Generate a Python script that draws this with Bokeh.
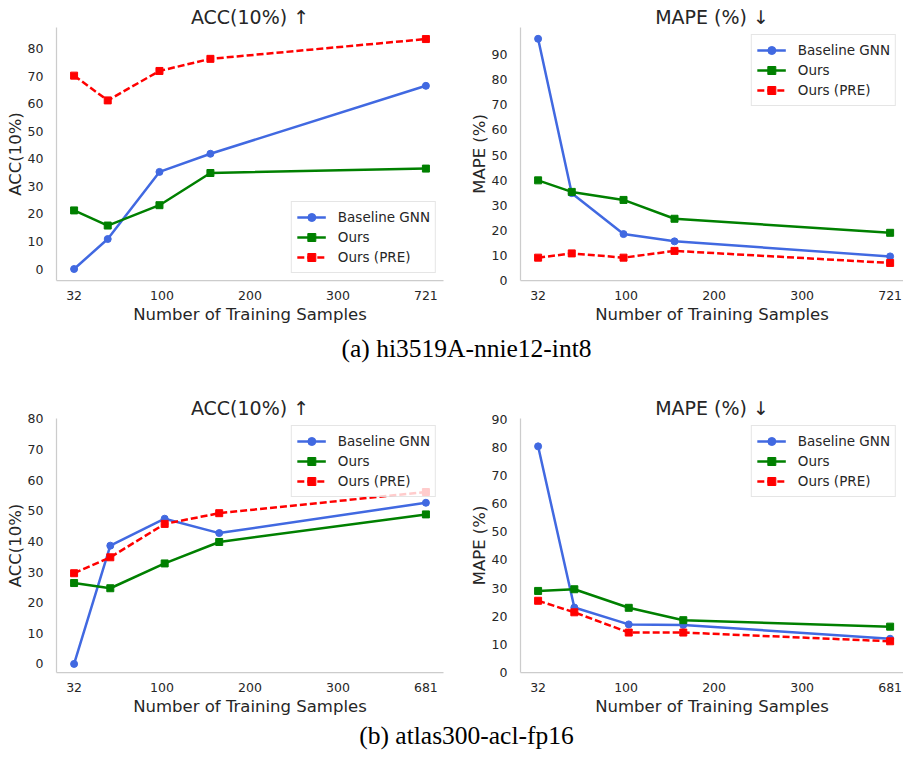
import numpy as np
from bokeh.plotting import figure
from bokeh.models import FixedTicker, Range1d, Legend, LegendItem, Div
from bokeh.layouts import column, row
from bokeh.embed import file_html
from bokeh.resources import INLINE

# ---------------- data ----------------
TICKS_A = [32, 100, 200, 300, 721]
TICKS_B = [32, 100, 200, 300, 681]
SAMPLES_A = [32, 58, 98, 155, 721]
SAMPLES_B = [32, 60, 103, 165, 681]

ACC_A_BASE = [0.0, 10.9, 35.3, 41.9, 66.6]
ACC_A_OURS = [21.3, 15.8, 23.2, 34.9, 36.5]
ACC_A_PRE = [70.3, 61.3, 72.0, 76.4, 83.6]

MAPE_A_BASE = [96.3, 34.8, 18.5, 15.6, 9.6]
MAPE_A_OURS = [39.9, 35.3, 32.1, 24.6, 19.0]
MAPE_A_PRE = [9.1, 10.8, 9.1, 11.8, 7.0]

ACC_B_BASE = [0.0, 38.6, 47.4, 42.7, 52.6]
ACC_B_OURS = [26.4, 24.7, 32.8, 39.8, 48.8]
ACC_B_PRE = [29.6, 34.8, 45.7, 49.2, 56.1]

MAPE_B_BASE = [80.4, 23.1, 17.1, 16.9, 12.0]
MAPE_B_OURS = [29.0, 29.6, 23.0, 18.6, 16.3]
MAPE_B_PRE = [25.5, 21.4, 14.2, 14.2, 11.1]

SERIES_NAMES = ["Baseline GNN", "Ours", "Ours (PRE)"]
CAPTION_A = "(a) hi3519A-nnie12-int8"
CAPTION_B = "(b) atlas300-acl-fp16"

TEXT = "#262626"
FONT = "DejaVu Sans"


def make_plot(title, ylabel, samples, ticks, series, yr, xend, yticks, loc,
              width, bl, br, height, bt, bb):
    slots = list(range(len(ticks)))
    xs = np.interp(samples, ticks, slots)
    p = figure(width=width, height=height, x_range=Range1d(-0.2, xend),
               y_range=Range1d(*yr), output_backend="svg", toolbar_location=None,
               min_border_left=bl, min_border_right=br, min_border_top=bt,
               min_border_bottom=bb)
    p.title.text = title
    p.title.align = "center"
    p.title.text_font = FONT
    p.title.text_font_size = "19px"
    p.title.text_font_style = "normal"
    p.title.text_color = TEXT
    p.title.standoff = 0
    p.outline_line_color = None
    p.xgrid.visible = False
    p.ygrid.visible = False
    p.xaxis.ticker = FixedTicker(ticks=slots)
    p.xaxis.major_label_overrides = {s: str(t) for s, t in zip(slots, ticks)}
    p.yaxis.ticker = FixedTicker(ticks=yticks)
    p.xaxis.axis_label = "Number of Training Samples"
    p.yaxis.axis_label = ylabel
    for ax in (p.xaxis[0], p.yaxis[0]):
        ax.axis_line_color = "#cccccc"
        ax.axis_line_width = 1.25
        ax.major_tick_line_color = None
        ax.minor_tick_line_color = None
        ax.major_label_text_font = FONT
        ax.major_label_text_font_size = "12.5px"
        ax.major_label_text_color = TEXT
        ax.axis_label_text_font = FONT
        ax.axis_label_text_font_size = "16.5px"
        ax.axis_label_text_font_style = "normal"
        ax.axis_label_text_color = TEXT
    p.xaxis.major_label_standoff = 4
    p.xaxis.axis_label_standoff = 2
    p.yaxis.major_label_standoff = 7
    p.yaxis.axis_label_standoff = 0

    colors = ["#4169e1", "#008000", "#ff0000"]
    markers = ["circle", "square", "square"]
    dashes = ["solid", "solid", "7 3"]
    items = []
    for name, ys, c, m, d in zip(SERIES_NAMES, series, colors, markers, dashes):
        l = p.line(xs, ys, line_color=c, line_width=2.5, line_dash=d)
        s = p.scatter(xs, ys, marker=m, size=7, fill_color=c, line_color=c)
        items.append(LegendItem(label=name, renderers=[l, s]))
    leg = Legend(items=items, location=loc)
    leg.border_line_color = "#cccccc"
    leg.border_line_width = 1
    leg.background_fill_alpha = 0.8
    leg.label_text_font = FONT
    leg.label_text_font_size = "13.5px"
    leg.label_text_color = TEXT
    leg.glyph_width = 29
    leg.glyph_height = 20
    leg.label_height = 20
    leg.spacing = 0
    leg.padding = 5
    leg.margin = 7
    leg.label_standoff = 12
    p.add_layout(leg)
    return p


LW, LBL, LBR = 460, 56, 17
RW, RBL, RBR = 443, 60, 0
LXEND, RXEND = 4.2, 4.152

pa1 = make_plot("ACC(10%) \u2191", "ACC(10%)", SAMPLES_A, TICKS_A,
                [ACC_A_BASE, ACC_A_OURS, ACC_A_PRE], (-4.18, 87.8), LXEND,
                list(range(0, 81, 10)), "bottom_right", LW, LBL, LBR, 335, 27, 55)
pa2 = make_plot("MAPE (%) \u2193", "MAPE (%)", SAMPLES_A, TICKS_A,
                [MAPE_A_BASE, MAPE_A_OURS, MAPE_A_PRE], (0, 100.8), RXEND,
                list(range(0, 91, 10)), "top_right", RW, RBL, RBR, 335, 27, 55)
pb1 = make_plot("ACC(10%) \u2191", "ACC(10%)", SAMPLES_B, TICKS_B,
                [ACC_B_BASE, ACC_B_OURS, ACC_B_PRE], (-2.8, 80.1), LXEND,
                list(range(0, 81, 10)), "top_right", LW, LBL, LBR, 336, 27, 55)
pb2 = make_plot("MAPE (%) \u2193", "MAPE (%)", SAMPLES_B, TICKS_B,
                [MAPE_B_BASE, MAPE_B_OURS, MAPE_B_PRE], (0, 90.3), RXEND,
                list(range(0, 91, 10)), "top_right", RW, RBL, RBR, 336, 27, 55)

cap_style = {"font-family": "'Liberation Serif', 'Times New Roman', serif",
             "font-size": "25.5px", "color": "black", "text-align": "center",
             "padding-left": "30px", "box-sizing": "border-box",
             "overflow": "visible", "white-space": "nowrap"}
cap_a = Div(text=CAPTION_A, width=903, height=56, margin=0,
            styles=dict(cap_style, **{"line-height": "28px"}))
cap_b = Div(text=CAPTION_B, width=903, height=24, margin=0,
            styles=dict(cap_style, **{"line-height": "18px"}))

layout = column(row(pa1, pa2), cap_a, row(pb1, pb2), cap_b)

open("out.html", "w").write(file_html(layout, INLINE))
